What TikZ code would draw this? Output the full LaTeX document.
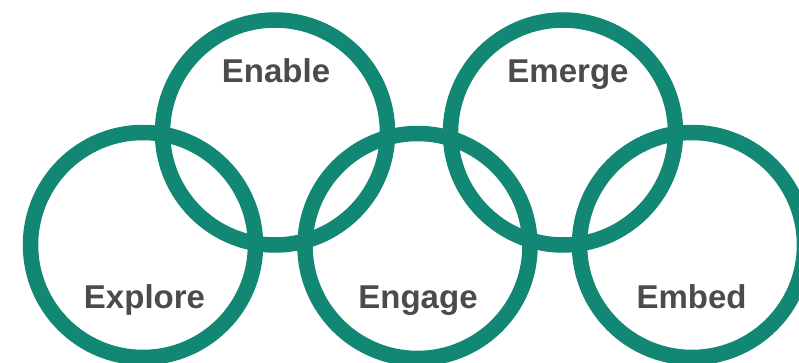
\documentclass[tikz,border=0pt]{standalone}
\usepackage{fontspec}
\setmainfont{Liberation Sans}
\definecolor{ringteal}{HTML}{128774}
\definecolor{labelgray}{HTML}{4A4A4F}
\begin{document}
\begin{tikzpicture}[x=1pt,y=-1pt,
  ring/.style={circle,draw=ringteal,line width=15.5pt,minimum size=225pt,inner sep=0pt},
  lbl/.style={anchor=base,text=labelgray,font=\fontsize{33}{36}\selectfont\bfseries,inner sep=0pt}]
\useasboundingbox (0,0) rectangle (799,363);
\clip (0,0) rectangle (799,363);
\node[ring] (explore) at (143,245) {};
\node[ring] (enable) at (275,132.5) {};
\node[ring] (engage) at (417.5,246) {};
\node[ring] (emerge) at (563,132.5) {};
\node[ring] (embed) at (692,245) {};
\node[lbl] (texplore) at (144.5,308.5) {Explore};
\node[lbl] (tenable) at (276,83) {Enable};
\node[lbl] (tengage) at (418,308.5) {Engage};
\node[lbl] (temerge) at (568,83) {Emerge};
\node[lbl] (tembed) at (691.5,308) {Embed};
\end{tikzpicture}
\end{document}
